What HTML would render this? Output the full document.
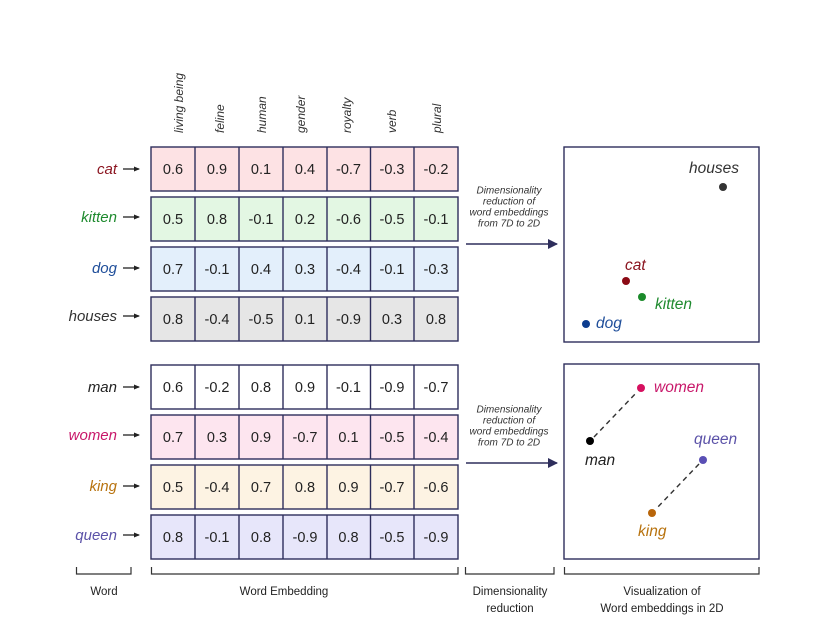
<!DOCTYPE html>
<html>
<head>
<meta charset="utf-8">
<style>
html,body{margin:0;padding:0;background:#fff;}
svg{display:block;}
text{font-family:"Liberation Sans",sans-serif;}
.num{font-size:14.5px;fill:#222;text-anchor:middle;}
.hdr{font-size:12px;font-style:italic;fill:#333;}
.wl{font-size:15px;font-style:italic;text-anchor:end;}
.dim{font-size:10px;font-style:italic;fill:#333;text-anchor:middle;}
.vl{font-size:15.5px;font-style:italic;}
.bl{font-size:11.5px;fill:#222;text-anchor:middle;}
</style>
</head>
<body>
<svg width="828" height="632" viewBox="0 0 828 632" xmlns="http://www.w3.org/2000/svg">
<defs>
<marker id="ah" markerWidth="10" markerHeight="10" refX="9" refY="5" orient="auto" markerUnits="userSpaceOnUse">
<path d="M0,0 L10,5 L0,10 z" fill="#2e2e5c"/>
</marker>
<marker id="sa" markerWidth="6" markerHeight="6" refX="5" refY="3" orient="auto" markerUnits="userSpaceOnUse">
<path d="M0,0.5 L6,3 L0,5.5 z" fill="#222"/>
</marker>
</defs>
<rect width="828" height="632" fill="#fff"/>

<!-- column headers -->
<g class="hdr">
<text transform="translate(183,133) rotate(-90)">living being</text>
<text transform="translate(224,133) rotate(-90)">feline</text>
<text transform="translate(266,133) rotate(-90)">human</text>
<text transform="translate(305,133) rotate(-90)">gender</text>
<text transform="translate(351,133) rotate(-90)">royalty</text>
<text transform="translate(396,133) rotate(-90)">verb</text>
<text transform="translate(441,133) rotate(-90)">plural</text>
</g>

<!-- rows -->
<g stroke="#2e2e5c" stroke-width="1.4">
<rect x="151" y="147" width="307" height="44" fill="#fde2e4"/>
<rect x="151" y="197" width="307" height="44" fill="#e3f7e3"/>
<rect x="151" y="247" width="307" height="44" fill="#e3effb"/>
<rect x="151" y="297" width="307" height="44" fill="#e6e6e6"/>
<rect x="151" y="365" width="307" height="44" fill="#ffffff"/>
<rect x="151" y="415" width="307" height="44" fill="#fde5ef"/>
<rect x="151" y="465" width="307" height="44" fill="#fdf3e3"/>
<rect x="151" y="515" width="307" height="44" fill="#e7e6fa"/>
<path d="M195,147V191M239,147V191M283,147V191M327,147V191M370.5,147V191M414,147V191
M195,197V241M239,197V241M283,197V241M327,197V241M370.5,197V241M414,197V241
M195,247V291M239,247V291M283,247V291M327,247V291M370.5,247V291M414,247V291
M195,297V341M239,297V341M283,297V341M327,297V341M370.5,297V341M414,297V341
M195,365V409M239,365V409M283,365V409M327,365V409M370.5,365V409M414,365V409
M195,415V459M239,415V459M283,415V459M327,415V459M370.5,415V459M414,415V459
M195,465V509M239,465V509M283,465V509M327,465V509M370.5,465V509M414,465V509
M195,515V559M239,515V559M283,515V559M327,515V559M370.5,515V559M414,515V559" fill="none"/>
</g>

<g class="num">
<text x="173" y="174">0.6</text><text x="217" y="174">0.9</text><text x="261" y="174">0.1</text><text x="305" y="174">0.4</text><text x="348.5" y="174">-0.7</text><text x="392" y="174">-0.3</text><text x="436" y="174">-0.2</text>
<text x="173" y="224">0.5</text><text x="217" y="224">0.8</text><text x="261" y="224">-0.1</text><text x="305" y="224">0.2</text><text x="348.5" y="224">-0.6</text><text x="392" y="224">-0.5</text><text x="436" y="224">-0.1</text>
<text x="173" y="274">0.7</text><text x="217" y="274">-0.1</text><text x="261" y="274">0.4</text><text x="305" y="274">0.3</text><text x="348.5" y="274">-0.4</text><text x="392" y="274">-0.1</text><text x="436" y="274">-0.3</text>
<text x="173" y="324">0.8</text><text x="217" y="324">-0.4</text><text x="261" y="324">-0.5</text><text x="305" y="324">0.1</text><text x="348.5" y="324">-0.9</text><text x="392" y="324">0.3</text><text x="436" y="324">0.8</text>
<text x="173" y="392">0.6</text><text x="217" y="392">-0.2</text><text x="261" y="392">0.8</text><text x="305" y="392">0.9</text><text x="348.5" y="392">-0.1</text><text x="392" y="392">-0.9</text><text x="436" y="392">-0.7</text>
<text x="173" y="442">0.7</text><text x="217" y="442">0.3</text><text x="261" y="442">0.9</text><text x="305" y="442">-0.7</text><text x="348.5" y="442">0.1</text><text x="392" y="442">-0.5</text><text x="436" y="442">-0.4</text>
<text x="173" y="492">0.5</text><text x="217" y="492">-0.4</text><text x="261" y="492">0.7</text><text x="305" y="492">0.8</text><text x="348.5" y="492">0.9</text><text x="392" y="492">-0.7</text><text x="436" y="492">-0.6</text>
<text x="173" y="542">0.8</text><text x="217" y="542">-0.1</text><text x="261" y="542">0.8</text><text x="305" y="542">-0.9</text><text x="348.5" y="542">0.8</text><text x="392" y="542">-0.5</text><text x="436" y="542">-0.9</text>
</g>

<!-- word labels -->
<text class="wl" x="117" y="174" fill="#8b1520">cat</text>
<text class="wl" x="117" y="222" fill="#1e8a2e">kitten</text>
<text class="wl" x="117" y="273" fill="#1f4e9a">dog</text>
<text class="wl" x="117" y="321" fill="#333">houses</text>
<text class="wl" x="117" y="392" fill="#222">man</text>
<text class="wl" x="117" y="440" fill="#c8186a">women</text>
<text class="wl" x="117" y="491" fill="#b8730f">king</text>
<text class="wl" x="117" y="540" fill="#5b52a8">queen</text>

<!-- small arrows -->
<g stroke="#222" stroke-width="1.3" marker-end="url(#sa)">
<line x1="123" y1="169" x2="139" y2="169"/>
<line x1="123" y1="217" x2="139" y2="217"/>
<line x1="123" y1="268" x2="139" y2="268"/>
<line x1="123" y1="316" x2="139" y2="316"/>
<line x1="123" y1="387" x2="139" y2="387"/>
<line x1="123" y1="435" x2="139" y2="435"/>
<line x1="123" y1="486" x2="139" y2="486"/>
<line x1="123" y1="535" x2="139" y2="535"/>
</g>

<!-- dimensionality reduction text & arrows -->
<g class="dim">
<text x="509" y="193.5">Dimensionality</text>
<text x="509" y="204.5">reduction of</text>
<text x="509" y="215.5">word embeddings</text>
<text x="509" y="226.5">from 7D to 2D</text>
<text x="509" y="412.5">Dimensionality</text>
<text x="509" y="423.5">reduction of</text>
<text x="509" y="434.5">word embeddings</text>
<text x="509" y="445.5">from 7D to 2D</text>
</g>
<line x1="466" y1="244" x2="557" y2="244" stroke="#2e2e5c" stroke-width="1.5" marker-end="url(#ah)"/>
<line x1="466" y1="463" x2="557" y2="463" stroke="#2e2e5c" stroke-width="1.5" marker-end="url(#ah)"/>

<!-- viz boxes -->
<rect x="564" y="147" width="195" height="195" fill="#fff" stroke="#2e2e5c" stroke-width="1.4"/>
<rect x="564" y="364" width="195" height="195" fill="#fff" stroke="#2e2e5c" stroke-width="1.4"/>

<!-- top viz -->
<circle cx="723" cy="187" r="4" fill="#333"/>
<text class="vl" x="689" y="173" fill="#333">houses</text>
<circle cx="626" cy="281" r="4" fill="#8b0a14"/>
<text class="vl" x="625" y="270" fill="#8b1520">cat</text>
<circle cx="642" cy="297" r="4" fill="#1a8a2a"/>
<text class="vl" x="655" y="309" fill="#1e8a2e">kitten</text>
<circle cx="586" cy="324" r="4" fill="#0d3d8f"/>
<text class="vl" x="596" y="328" fill="#1f4e9a">dog</text>

<!-- bottom viz -->
<g stroke="#333" stroke-width="1.4" stroke-dasharray="5,4">
<line x1="594" y1="437" x2="637" y2="392"/>
<line x1="699" y1="464" x2="656" y2="509"/>
</g>
<circle cx="641" cy="388" r="4" fill="#d6105f"/>
<text class="vl" x="654" y="392" fill="#c8186a">women</text>
<circle cx="590" cy="441" r="4" fill="#000"/>
<text class="vl" x="585" y="465" fill="#222">man</text>
<circle cx="703" cy="460" r="4" fill="#5a4fb5"/>
<text class="vl" x="694" y="444" fill="#5b52a8">queen</text>
<circle cx="652" cy="513" r="4" fill="#b8650a"/>
<text class="vl" x="638" y="536" fill="#b8730f">king</text>

<!-- brackets -->
<g stroke="#333" stroke-width="1.2" fill="none">
<path d="M76.5,567V574H131V567"/>
<path d="M151.5,567V574H458V567"/>
<path d="M465.5,567V574H554V567"/>
<path d="M564.5,567V574H759V567"/>
</g>
<g class="bl">
<text x="104" y="595">Word</text>
<text x="284" y="595">Word Embedding</text>
<text x="510" y="595">Dimensionality</text>
<text x="510" y="612">reduction</text>
<text x="662" y="595">Visualization of</text>
<text x="662" y="612">Word embeddings in 2D</text>
</g>
</svg>
</body>
</html>
